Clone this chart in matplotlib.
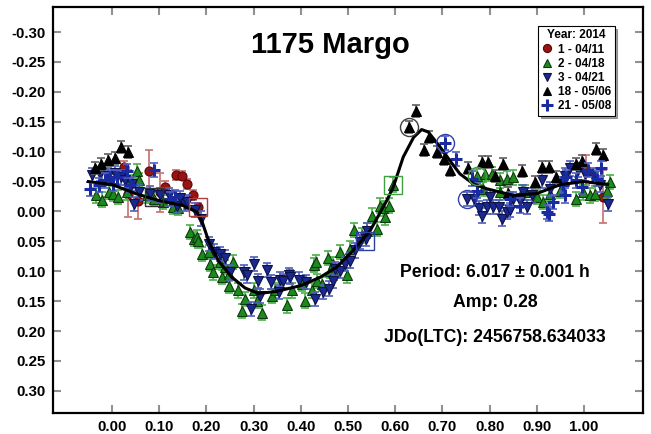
import numpy as np
import matplotlib
matplotlib.use("Agg")
import matplotlib.pyplot as plt

plt.rcParams['font.family'] = ['Liberation Sans', 'DejaVu Sans']
plt.rcParams['font.weight'] = 'bold'

# session 1 - 04/11 (red circles)
red_x = [0.025, 0.033, 0.056, 0.079, 0.102, 0.113, 0.136, 0.148, 0.159, 0.171, 0.182, 1.005, 1.040]
red_y = [-0.074, -0.030, -0.018, -0.068, -0.032, -0.041, -0.061, -0.060, -0.046, -0.028, -0.007, -0.070, -0.025]
red_e = [0.010, 0.040, 0.030, 0.035, 0.033, 0.010, 0.008, 0.008, 0.008, 0.008, 0.008, 0.025, 0.045]

# session 2 - 04/18 (green triangles)
green_x = [-0.034, -0.021, -0.007, 0.003, 0.013, 0.032, 0.035, 0.052, 0.058, 0.074, 0.090, 0.109,
           0.130, 0.140, 0.166, 0.173, 0.180, 0.183, 0.190, 0.205, 0.208, 0.215, 0.229, 0.233,
           0.240, 0.247, 0.247, 0.257, 0.268, 0.275, 0.282, 0.300, 0.307, 0.318, 0.339, 0.346,
           0.370, 0.381, 0.402, 0.409, 0.423, 0.427, 0.432, 0.434, 0.445, 0.457, 0.462, 0.469,
           0.471, 0.483, 0.497, 0.505, 0.513, 0.529, 0.541, 0.550, 0.561, 0.568, 0.574, 0.579,
           0.586, 0.595, 0.773, 0.787, 0.790, 0.805, 0.821, 0.822, 0.836, 0.850, 0.868, 0.875,
           0.900, 0.914, 0.928, 0.949, 0.984, 0.998, 1.012, 1.023, 1.048, 1.055]
green_y = [-0.027, -0.020, -0.033, -0.030, -0.024, -0.032, -0.049, -0.067, -0.053, -0.027, -0.021, -0.016,
           -0.007, -0.006, 0.034, 0.046, 0.043, 0.049, 0.071, 0.068, 0.088, 0.102, 0.085, 0.110,
           0.093, 0.104, 0.124, 0.085, 0.132, 0.166, 0.146, 0.132, 0.149, 0.169, 0.141, 0.132,
           0.157, 0.132, 0.121, 0.149, 0.132, 0.090, 0.085, 0.116, 0.121, 0.078, 0.099, 0.088,
           0.102, 0.068, 0.107, 0.062, 0.031, 0.040, 0.032, 0.007, 0.029, -0.010, -0.005, 0.010,
           -0.010, -0.045, -0.059, -0.038, -0.063, -0.063, -0.052, -0.032, -0.055, -0.057, -0.032, -0.032,
           -0.024, -0.016, -0.030, -0.035, -0.021, -0.032, -0.027, -0.030, -0.035, -0.049]

# session 3 - 04/21 (blue down triangles)
blue_x = [-0.042, -0.025, -0.009, 0.007, 0.019, 0.028, 0.042, 0.046, 0.058, 0.081, 0.102, 0.120,
          0.138, 0.145, 0.155, 0.159, 0.175, 0.189, 0.205, 0.217, 0.228, 0.240, 0.250, 0.279,
          0.286, 0.294, 0.301, 0.310, 0.314, 0.328, 0.337, 0.353, 0.356, 0.363, 0.374, 0.377,
          0.397, 0.412, 0.430, 0.448, 0.459, 0.468, 0.473, 0.483, 0.494, 0.505, 0.515, 0.526,
          0.538, 0.540, 0.753, 0.766, 0.778, 0.783, 0.794, 0.801, 0.808, 0.819, 0.826, 0.836,
          0.843, 0.850, 0.864, 0.871, 0.879, 0.889, 0.912, 0.928, 0.956, 0.960, 0.970, 0.988,
          1.002, 1.020, 1.034, 1.051]
blue_y = [-0.061, -0.063, -0.060, -0.064, -0.057, -0.052, -0.046, -0.013, -0.032, -0.030, -0.027, -0.027,
          -0.010, -0.023, -0.013, -0.016, -0.002, 0.012, 0.054, 0.067, 0.071, 0.077, 0.102, 0.102,
          0.107, 0.163, 0.088, 0.116, 0.141, 0.098, 0.118, 0.135, 0.114, 0.116, 0.107, 0.110,
          0.114, 0.118, 0.146, 0.135, 0.129, 0.116, 0.096, 0.099, 0.088, 0.082, 0.065, 0.051,
          0.046, 0.032, -0.021, -0.021, -0.006, 0.007, -0.007, -0.024, -0.007, -0.007, 0.012, 0.001,
          -0.002, -0.021, -0.018, -0.032, -0.007, -0.027, -0.052, -0.038, -0.046, -0.060, -0.072, -0.069,
          -0.063, -0.060, -0.044, -0.013]

# session 18 - 05/06 (black triangles)
black_x = [-0.035, -0.023, -0.009, 0.006, 0.019, 0.034, 0.630, 0.644, 0.660, 0.672, 0.688, 0.704,
           0.716, 0.755, 0.783, 0.797, 0.812, 0.828, 0.840, 0.869, 0.896, 0.912, 0.926, 0.940,
           0.983, 0.995, 1.025, 1.040]
black_y = [-0.072, -0.080, -0.086, -0.090, -0.108, -0.100, -0.142, -0.168, -0.103, -0.124, -0.099, -0.088,
           -0.069, -0.072, -0.082, -0.083, -0.060, -0.080, -0.031, -0.068, -0.049, -0.074, -0.074, -0.057,
           -0.080, -0.085, -0.105, -0.095]

# session 21 - 05/08 (blue plus)
plus_x = [-0.047, -0.028, -0.014, -0.004, 0.003, 0.011, 0.032, 0.039, 0.090, 0.123, 0.134, 0.706,
          0.729, 0.762, 0.773, 0.843, 0.864, 0.921, 0.925, 0.935, 0.956, 0.960, 0.962, 0.984,
          0.995, 1.009, 1.027, 1.037]
plus_y = [-0.038, -0.044, -0.052, -0.057, -0.046, -0.057, -0.068, -0.044, -0.069, -0.021, -0.024, -0.114,
          -0.088, -0.055, -0.035, -0.021, -0.010, 0.001, 0.004, -0.016, -0.044, -0.027, -0.057, -0.052,
          -0.041, -0.069, -0.055, -0.072]

# fourier fit curve
fit_x = [-0.05, 0.00, 0.05, 0.10, 0.15, 0.18, 0.19, 0.205, 0.226, 0.254, 0.282, 0.31, 0.346, 0.40,
         0.441, 0.476, 0.511, 0.547, 0.582, 0.596, 0.617, 0.639, 0.656, 0.67, 0.695, 0.716, 0.737,
         0.766, 0.794, 0.85, 0.90, 0.95, 1.00, 1.05]
fit_y = [-0.050, -0.045, -0.030, -0.018, -0.010, 0.001, 0.015, 0.050, 0.083, 0.110, 0.128, 0.137,
         0.134, 0.124, 0.110, 0.093, 0.065, 0.032, -0.018, -0.041, -0.091, -0.124, -0.137, -0.133,
         -0.108, -0.085, -0.063, -0.046, -0.038, -0.027, -0.030, -0.045, -0.050, -0.045]

fig = plt.figure(figsize=(6.51, 4.34), dpi=100)
ax = fig.add_axes([0.0814, 0.0484, 0.9063, 0.9355])

series = [
    (red_x, red_y, red_e, 'o', '#9a1212', '#5a0808', '#c47070', '1 - 04/11'),
    (green_x, green_y, 0.012, '^', '#1d8a1d', '#0e3a0e', '#4cb04c', '2 - 04/18'),
    (blue_x, blue_y, 0.012, 'v', '#1a2890', '#0c1245', '#5060b8', '3 - 04/21'),
    (black_x, black_y, 0.010, '^', '#000000', '#000000', '#606060', '18 - 05/06'),
]
for i, (x, y, e, m, c, ec, erc, lab) in enumerate(series):
    ax.errorbar(x, y, yerr=e, fmt='none', ecolor=erc, elinewidth=1.2, capsize=3,
                capthick=1.2, zorder=2 + i)
    ax.plot(x, y, m, ls='none', ms=6.5, mfc=c, mec=ec, mew=0.8, label=lab, zorder=2 + i)

ax.errorbar(plus_x, plus_y, yerr=0.012, fmt='none', ecolor='#5060c0', elinewidth=1.2,
            capsize=3, capthick=1.2, zorder=7)
ax.plot(plus_x, plus_y, '+', ls='none', ms=9, mew=2.2, color='#1a2aa0', label='21 - 05/08', zorder=7)

ax.plot(fit_x, fit_y, color='black', lw=2.2, zorder=8)

# session start markers
ax.plot([0.182], [-0.007], 's', ms=13, mfc='none', mec='#b04040', mew=1, zorder=9)
ax.plot([0.09], [-0.025], 's', ms=13, mfc='none', mec='#303030', mew=1, zorder=9)
ax.plot([0.595], [-0.045], 's', ms=13, mfc='none', mec='#40a040', mew=1, zorder=9)
ax.plot([0.537], [0.050], 's', ms=13, mfc='none', mec='#3040a0', mew=1, zorder=9)
ax.plot([0.630], [-0.142], 'o', ms=13, mfc='none', mec='#404040', mew=1, zorder=9)
ax.plot([0.706, 0.753], [-0.114, -0.021], 'o', ms=13, mfc='none', mec='#3040b0', mew=1, zorder=9)
ax.plot([0.773], [-0.059], 'o', ms=13, mfc='none', mec='#40a040', mew=1, zorder=9)

ax.set_xlim(-0.125, 1.125)
ax.set_ylim(0.337, -0.342)
ax.set_xticks(np.arange(0, 1.01, 0.1))
ax.set_xticklabels([f"{v:.2f}" for v in np.arange(0, 1.01, 0.1)])
ax.set_yticks(np.arange(-0.30, 0.301, 0.05))
ax.set_yticklabels([f"{v:.2f}" if abs(v) > 1e-9 else "0.00" for v in np.arange(-0.30, 0.301, 0.05)])
ax.tick_params(direction='in', length=6, width=1.5, color='#909090', labelsize=10.8,
               top=True, right=True, pad=5)
for s in ax.spines.values():
    s.set_linewidth(1.6)

ax.text(0.47, 0.906, '1175 Margo', transform=ax.transAxes, ha='center', va='center',
        fontsize=21, fontweight='bold')
ax.text(0.749, 0.347, 'Period: 6.017 \u00b1 0.001 h', transform=ax.transAxes, ha='center',
        va='center', fontsize=12.7, fontweight='bold')
ax.text(0.749, 0.273, 'Amp: 0.28', transform=ax.transAxes, ha='center', va='center',
        fontsize=12.7, fontweight='bold')
ax.text(0.749, 0.185, 'JDo(LTC): 2456758.634033', transform=ax.transAxes, ha='center',
        va='center', fontsize=12.7, fontweight='bold')

leg = ax.legend(loc='upper right', bbox_to_anchor=(0.962, 0.968), title='Year: 2014',
                fontsize=8.5, title_fontsize=8.5, shadow=True, fancybox=False, framealpha=1,
                edgecolor='black', handlelength=1.0, handletextpad=0.4, borderpad=0.3,
                labelspacing=0.18, markerscale=0.9)
leg.get_title().set_fontweight('bold')
leg.get_frame().set_linewidth(0.8)

fig.savefig('out.png', dpi=100)
